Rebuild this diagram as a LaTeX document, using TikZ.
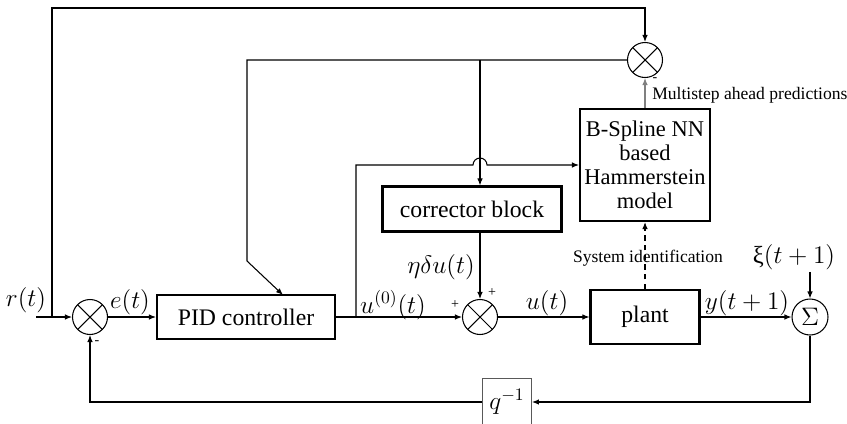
\documentclass[tikz,border=0pt]{standalone}
\usepackage{fontspec}
\setmainfont{Liberation Serif}
\usepackage{amsmath}
\usetikzlibrary{arrows.meta,positioning,calc}

\tikzset{
  block/.style={draw, line width=1.2pt, inner sep=0pt, font=\fontsize{13.5}{15}\selectfont},
  mult/.style={draw, circle, minimum size=0.7cm, inner sep=0pt,
    path picture={\draw (path picture bounding box.north west) -- (path picture bounding box.south east)
      (path picture bounding box.north east) -- (path picture bounding box.south west);}},
  lbl/.style={font=\fontsize{14}{16}\selectfont, inner sep=1pt},
  note/.style={font=\fontsize{10}{12}\selectfont, inner sep=1pt},
  sgn/.style={font=\fontsize{8}{9}\selectfont, inner sep=0pt}
}

\begin{document}
\begin{tikzpicture}[x=0.02cm,y=-0.02cm,line width=0.6pt,>={Latex[length=1.4mm,width=1.1mm]}]
\useasboundingbox (0,0) rectangle (847,423);

% blocks
\node[block,minimum width=3.56cm,minimum height=0.88cm] (pid) at (246,317) {PID controller};
\node[block,minimum width=3.58cm,minimum height=0.9cm] (cor) at (472,209) {corrector block};
\node[block,minimum width=2.6cm,minimum height=2.24cm,align=center,
  font=\fontsize{12.8}{13.6}\selectfont] (ham) at (645,165) {B-Spline NN\\based\\Hammerstein\\model};
\node[block,minimum width=2.18cm,minimum height=1.08cm] (plant) at (645,317) {plant};
\node[draw=gray!70!black,line width=0.5pt,minimum width=0.98cm,minimum height=0.96cm,
  font=\fontsize{14}{16}\selectfont] (q) at (507,402) {$q^{-1}$};

% summing points
\node[mult] (s1) at (90,317) {};
\node[mult] (s2) at (480,317) {};
\node[mult] (s3) at (645,60) {};
\node[draw,circle,minimum size=0.72cm,inner sep=0pt,font=\fontsize{14}{16}\selectfont] (sig) at (810,317) {$\Sigma$};

% labels
\node[lbl] (r) at (26,300) {$r(t)$};
\node[lbl] (e) at (130,302) {$e(t)$};
\node[lbl] (u0) at (393,305) {$u^{(0)}(t)$};
\node[lbl] (eta) at (441,267) {$\eta\delta u(t)$};
\node[lbl] (u) at (547,303) {$u(t)$};
\node[lbl] (y) at (747,303) {$y(t+1)$};
\node[lbl] (xi) at (794,257) {ξ$(t+1)$};
\node[note,anchor=west] (pred) at (650,95) {Multistep ahead predictions};
\node[note] (sysid) at (648,258) {System identification};
\node[sgn] (m1) at (97,343) {-};
\node[sgn] (m3) at (655,80) {-};
\node[sgn] (p1) at (455,305) {+};
\node[sgn] (p2) at (492,293) {+};

% connectors
\coordinate (in) at (36,317);
\coordinate (rtap) at (52,317);
\coordinate (top) at (645,8);
\coordinate (utap) at (356,317);
\coordinate (hop) at (473,165);
\coordinate (cbr) at (480,60);
\coordinate (kink) at (247,261);
\coordinate (pidin) at (283,295);

\draw[->] (in) -- (s1);
\draw[->] (rtap) |- (top) -- (s3);
\draw[->] (s1) -- (pid);
\draw[->] (pid) -- (s2);
\draw[->] (utap) |- (hop) arc[start angle=180,end angle=0,radius=0.14cm] -- (ham.west |- hop);
\draw[->] (s3.west) -| (kink) -- (pidin);
\draw[->] (cbr) -- (cbr |- cor.north);
\draw[->] (s2.north |- cor.south) -- (s2);
\draw[->] (s2) -- (plant);
\draw[->] (plant) -- (sig);
\draw[->] (xi.south -| sig) -- (sig);
\draw[->] (sig) |- (q);
\draw[->] (q) -| (s1);
\draw[->,dash pattern=on 3pt off 2.5pt] (plant) -- (ham);
\draw[->,gray] (ham) -- (s3);
\end{tikzpicture}
\end{document}
